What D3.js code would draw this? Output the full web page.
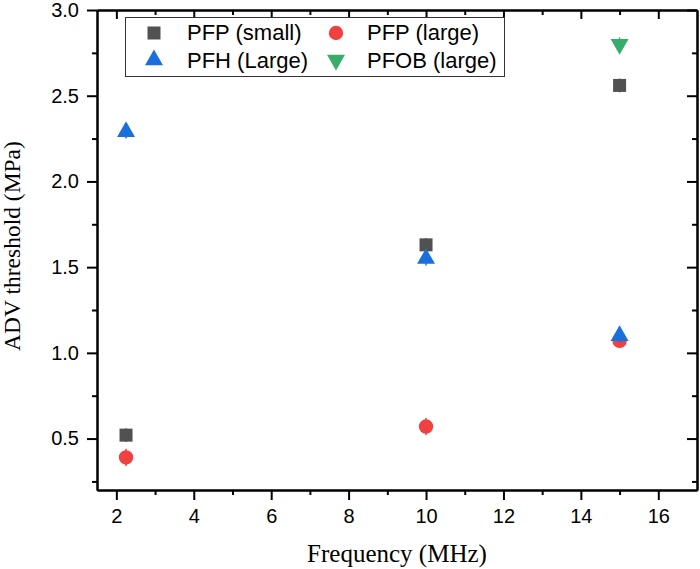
<!DOCTYPE html>
<html>
<head>
<meta charset="utf-8">
<script src="https://cdn.jsdelivr.net/npm/d3@7"></script>
<style>
  body { margin: 0; background: #fff; }
  svg { display: block; }
  .tick text { font-family: "Liberation Sans", Arial, sans-serif; font-size: 20px; fill: #000; }
  .domain, .tick line { stroke: #000; stroke-width: 2px; }
</style>
</head>
<body>
<svg id="chart" width="700" height="569"></svg>
<script>
// data
var seriesNames = ["PFP (small)", "PFP (large)", "PFH (Large)", "PFOB (large)"];
var seriesColors = ["#515151", "#F14040", "#1A6FDF", "#37AD6B"];

var pfpSmallFreq = [2.25, 10, 15];
var pfpSmallVal  = [0.52, 1.63, 2.56];
var pfpSmallErr  = [0.04, 0.04, 0.04];

var pfpLargeFreq = [2.25, 10, 15];
var pfpLargeVal  = [0.39, 0.57, 1.07];
var pfpLargeErr  = [0.05, 0.05, 0.04];

var pfhLargeFreq = [2.25, 10, 15];
var pfhLargeVal  = [2.29, 1.55, 1.10];
var pfhLargeErr  = [0.04, 0.04, 0.04];

var pfobLargeFreq = [15];
var pfobLargeVal  = [2.80];
var pfobLargeErr  = [0.04];

var xMajorTicks = [2, 4, 6, 8, 10, 12, 14, 16];
var xMinorTicks = [3, 5, 7, 9, 11, 13, 15];
var yMajorTicks = [0.5, 1.0, 1.5, 2.0, 2.5, 3.0];
var yMinorTicks = [0.25, 0.75, 1.25, 1.75, 2.25, 2.75];

var svg = d3.select("#chart");

// plot box (don't call these top/left at global scope, window.top is read only)
var pLeft = 97, pRight = 697, pTop = 10, pBottom = 490;
var x = d3.scaleLinear().domain([1.5, 17]).range([pLeft, pRight]);
var y = d3.scaleLinear().domain([0.2, 3.0]).range([pBottom, pTop]);

// axes - outer ticks on left/bottom, inward ticks on top/right
function addAxis(axis, tx, ty, labels) {
    var g = svg.append("g").attr("transform", "translate(" + tx + "," + ty + ")").call(axis);
    if (!labels) g.selectAll(".tick text").remove();
    return g;
}

addAxis(d3.axisBottom(x).tickValues(xMajorTicks).tickSize(10).tickSizeOuter(0).tickPadding(9).tickFormat(d3.format("d")), 0, pBottom, true);
addAxis(d3.axisBottom(x).tickValues(xMinorTicks).tickSize(5).tickSizeOuter(0), 0, pBottom, false);
addAxis(d3.axisTop(x).tickValues(xMajorTicks).tickSize(-9).tickSizeOuter(0), 0, pTop, false);
addAxis(d3.axisTop(x).tickValues(xMinorTicks).tickSize(-5).tickSizeOuter(0), 0, pTop, false);

addAxis(d3.axisLeft(y).tickValues(yMajorTicks).tickSize(10).tickSizeOuter(0).tickPadding(8).tickFormat(d3.format(".1f")), pLeft, 0, true);
addAxis(d3.axisLeft(y).tickValues(yMinorTicks).tickSize(5).tickSizeOuter(0), pLeft, 0, false);
addAxis(d3.axisRight(y).tickValues(yMajorTicks).tickSize(-10).tickSizeOuter(0), pRight, 0, false);
addAxis(d3.axisRight(y).tickValues(yMinorTicks).tickSize(-5).tickSizeOuter(0), pRight, 0, false);

// axis titles
svg.append("text")
    .attr("x", (pLeft + pRight) / 2).attr("y", 562)
    .attr("text-anchor", "middle")
    .style("font-family", "'Liberation Serif', 'Times New Roman', serif")
    .style("font-size", "25px")
    .text("Frequency (MHz)");

svg.append("text")
    .attr("transform", "translate(19.5," + 246 + ") rotate(-90)")
    .attr("text-anchor", "middle")
    .style("font-family", "'Liberation Serif', 'Times New Roman', serif")
    .style("font-size", "23.5px")
    .text("ADV threshold (MPa)");

// markers
var symbols = [
    d3.symbol().type(d3.symbolSquare).size(169),
    d3.symbol().type(d3.symbolCircle).size(163),
    d3.symbol().type(d3.symbolTriangle).size(140),
    d3.symbol().type(d3.symbolTriangle).size(140)
];
var rotations = [0, 0, 0, 180];

var series = [
    {freq: pfpSmallFreq, val: pfpSmallVal, err: pfpSmallErr},
    {freq: pfpLargeFreq, val: pfpLargeVal, err: pfpLargeErr},
    {freq: pfhLargeFreq, val: pfhLargeVal, err: pfhLargeErr},
    {freq: pfobLargeFreq, val: pfobLargeVal, err: pfobLargeErr}
];

series.forEach(function(s, i) {
    var pts = s.freq.map(function(f, j) { return {x: f, y: s.val[j], e: s.err[j]}; });
    var g = svg.append("g");
    // error bars
    g.selectAll("line.err").data(pts).enter().append("line")
        .attr("x1", function(d) { return x(d.x); })
        .attr("x2", function(d) { return x(d.x); })
        .attr("y1", function(d) { return y(d.y - d.e); })
        .attr("y2", function(d) { return y(d.y + d.e); })
        .attr("stroke", seriesColors[i]).attr("stroke-width", 1.5);
    g.selectAll("path").data(pts).enter().append("path")
        .attr("d", symbols[i])
        .attr("transform", function(d) { return "translate(" + x(d.x) + "," + y(d.y) + ") rotate(" + rotations[i] + ")"; })
        .attr("fill", seriesColors[i]);
});

// legend
var lg = svg.append("g");
lg.append("rect")
    .attr("x", 125.5).attr("y", 17.5).attr("width", 379).attr("height", 59)
    .attr("fill", "#fff").attr("stroke", "#333").attr("stroke-width", 1);

var legendPos = [
    {mx: 154, my: 33, tx: 187, ty: 40},
    {mx: 336, my: 33, tx: 367, ty: 40},
    {mx: 154, my: 60, tx: 187, ty: 68},
    {mx: 336, my: 60, tx: 367, ty: 68}
];
seriesNames.forEach(function(name, i) {
    var p = legendPos[i];
    lg.append("path")
        .attr("d", symbols[i])
        .attr("transform", "translate(" + p.mx + "," + p.my + ") rotate(" + rotations[i] + ")")
        .attr("fill", seriesColors[i]);
    lg.append("text")
        .attr("x", p.tx).attr("y", p.ty)
        .style("font-family", "'Liberation Sans', Arial, sans-serif")
        .style("font-size", "22px")
        .text(name);
});
</script>
</body>
</html>
